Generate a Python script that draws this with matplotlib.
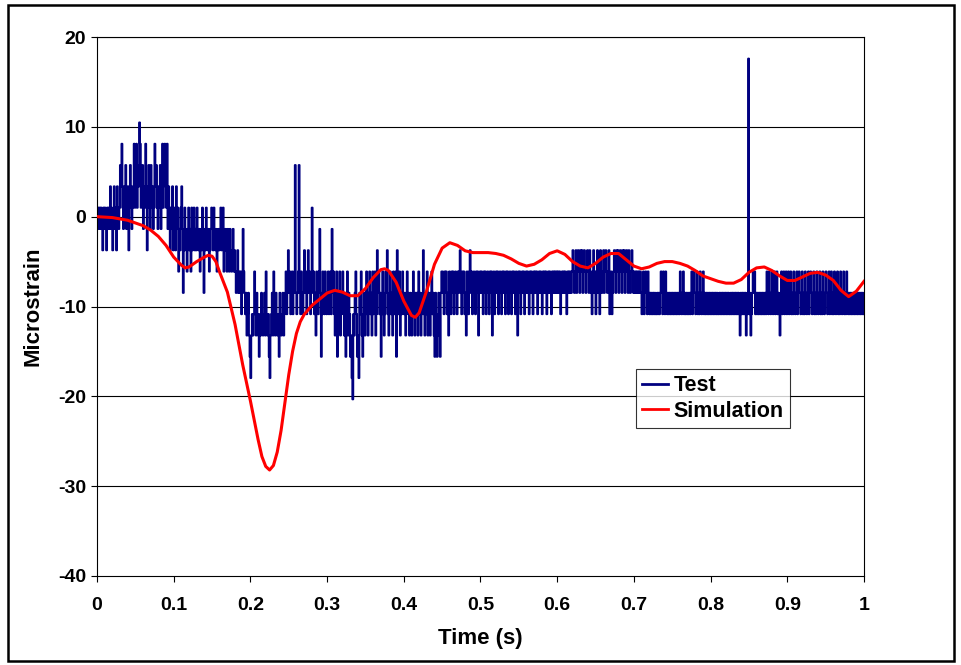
import numpy as np
import matplotlib
matplotlib.use("Agg")
import matplotlib.pyplot as plt
from matplotlib.patches import Rectangle

plt.rcParams['font.family'] = ['Liberation Sans', 'DejaVu Sans']
plt.rcParams['axes.unicode_minus'] = False
plt.rcParams['path.simplify'] = False

# Test signal: gauge readings in quantisation steps,
# one row per 0.05 s, 1 ms between samples
step = 2.37      # microstrain per step
zero = 1.0       # level of step 0
test_dt = 0.001
row_span = 0.05
test_rows = [
    [0, -1, 0, 0, -1, 0, -1, -2, 0, -1, 0, -1, -2, 0, -1, 0, -1, 1, 0, -1, -2, 0, 1, -1, 0,
     -2, 1, 0, -1, 0, 2, 1, 3, 0, -1, 1, 0, 2, -1, 0, 1, -2, 0, 2, 1, -1, 0, 1, 3, 0],
    [1, 3, 0, 2, 1, 4, 3, 0, 1, 2, -1, 0, 1, 3, 0, -2, 1, 2, 0, -1, 2, 0, 1, -1, 0,
     3, 1, 2, 0, -1, 1, 0, 2, -1, 1, 3, 0, 2, 3, 1, 0, 3, -1, 1, 0, -2, 0, -1, 1, -2],
    [0, -1, -2, 1, -1, 0, -3, -1, -2, 0, 1, -1, -4, -2, 0, -1, -2, -3, -1, 0, -2, -1, -3, 0, -2,
     -1, 0, -2, -1, -2, 0, -1, -2, -1, -3, -2, -1, 0, -2, -4, -1, -2, 0, -1, -2, -1, -3, -2, -1, 0],
    [-1, -2, 0, -1, -2, -1, -3, -2, -1, -2, -1, 0, -2, -1, 0, -3, -2, -1, -2, -3, -1, -2, -3, -1, -2,
     -3, -2, -1, -3, -2, -3, -4, -3, -2, -4, -3, -4, -3, -5, -4, -1, -3, -4, -5, -4, -6, -5, -4, -6, -7],
    [-8, -6, -5, -6, -5, -3, -5, -6, -4, -5, -6, -7, -5, -6, -4, -5, -6, -5, -4, -6, -3, -5, -6, -5, -7,
     -8, -6, -5, -4, -6, -3, -5, -6, -4, -5, -6, -5, -7, -4, -5, -6, -5, -4, -6, -5, -4, -3, -5, -4, -2],
    [-4, -3, -5, -4, -3, -5, -4, -3, 2, -4, -5, -4, -3, 2, -4, -5, -3, -4, -5, -4, -2, -4, -3, -5, -4,
     -2, -3, -4, -5, -3, 0, -4, -3, -5, -4, -6, -3, -4, -5, -3, -1, -4, -7, -5, -3, -4, -5, -3, -4, -5],
    [-4, -3, -5, -4, -3, -5, -1, -4, -3, -5, -6, -4, -3, -7, -5, -4, -3, -6, -5, -4, -3, -5, -6, -4, -7,
     -5, -3, -6, -4, -5, -7, -6, -8, -9, -5, -6, -4, -3, -5, -7, -6, -8, -4, -5, -3, -6, -7, -5, -4, -6],
    [-4, -3, -5, -6, -4, -3, -5, -4, -6, -3, -5, -4, -3, -6, -5, -2, -4, -3, -5, -4, -7, -5, -3, -4, -6,
     -5, -3, -4, -2, -5, -6, -4, -3, -5, -4, -6, -3, -5, -4, -3, -7, -2, -4, -5, -3, -6, -4, -5, -3, -4],
    [-5, -4, -6, -5, -3, -4, -5, -6, -4, -5, -6, -4, -3, -5, -6, -4, -5, -4, -6, -3, -5, -4, -6, -5, -4,
     -2, -5, -6, -4, -5, -3, -6, -4, -5, -6, -4, -3, -5, -4, -6, -7, -4, -5, -7, -6, -4, -5, -7, -4, -3],
    [-3, -4, -5, -3, -4, -3, -5, -4, -6, -3, -4, -5, -3, -4, -3, -5, -4, -3, -4, -5, -3, -4, -3, -2, -4,
     -5, -3, -4, -3, -5, -4, -6, -3, -4, -5, -3, -2, -4, -3, -5, -4, -3, -4, -5, -3, -4, -3, -6, -4, -3],
    [-4, -3, -4, -5, -3, -4, -3, -5, -4, -3, -4, -5, -3, -4, -3, -6, -4, -3, -5, -4, -3, -4, -3, -5, -4,
     -3, -4, -5, -3, -4, -3, -4, -5, -3, -4, -3, -5, -4, -3, -4, -5, -3, -4, -3, -4, -5, -3, -4, -6, -3],
    [-4, -3, -5, -4, -3, -4, -3, -5, -4, -3, -4, -3, -4, -5, -3, -4, -3, -4, -5, -3, -4, -3, -4, -3, -5,
     -4, -3, -4, -3, -4, -5, -3, -4, -3, -4, -3, -5, -4, -3, -4, -3, -4, -5, -3, -4, -3, -4, -3, -4, -3],
    [-4, -3, -4, -3, -5, -4, -3, -4, -3, -4, -3, -4, -5, -3, -4, -3, -4, -3, -4, -3, -2, -3, -4, -3, -2,
     -4, -3, -2, -3, -4, -2, -3, -2, -4, -3, -2, -3, -4, -3, -2, -3, -4, -2, -3, -4, -5, -3, -2, -4, -3],
    [-5, -3, -2, -4, -3, -5, -2, -3, -4, -3, -2, -4, -3, -2, -3, -4, -3, -2, -5, -4, -3, -5, -4, -3, -2,
     -3, -4, -2, -3, -2, -4, -3, -2, -3, -4, -2, -3, -2, -4, -3, -2, -3, -4, -2, -3, -4, -3, -2, -3, -4],
    [-3, -4, -3, -4, -3, -4, -3, -4, -3, -4, -5, -4, -3, -5, -4, -3, -4, -5, -3, -4, -5, -4, -5, -4, -5,
     -4, -5, -4, -5, -5, -4, -5, -4, -5, -4, -3, -4, -5, -3, -4, -5, -3, -4, -5, -4, -5, -4, -5, -4, -5],
    [-4, -5, -4, -5, -4, -5, -4, -5, -4, -5, -3, -4, -5, -4, -3, -5, -4, -5, -4, -5, -4, -5, -4, -5, -4,
     -3, -5, -4, -3, -4, -5, -4, -3, -5, -4, -5, -3, -4, -5, -4, -3, -5, -4, -5, -4, -5, -4, -5, -4, -5],
    [-4, -5, -4, -5, -4, -5, -4, -5, -4, -5, -5, -4, -5, -4, -5, -4, -5, -4, -5, -4, -5, -4, -5, -4, -5,
     -5, -4, -5, -4, -5, -4, -5, -4, -5, -4, -5, -4, -5, -6, -4, -5, -4, -5, -4, -5, -4, -6, -5, -4, 7],
    [-5, -4, -6, -5, -4, -3, -4, -3, -5, -4, -5, -4, -5, -4, -5, -4, -5, -4, -5, -4, -5, -4, -5, -3, -4,
     -5, -3, -4, -5, -4, -3, -5, -4, -3, -5, -4, -3, -5, -4, -5, -6, -4, -3, -5, -4, -3, -5, -4, -3, -5],
    [-4, -3, -5, -4, -3, -5, -4, -5, -3, -4, -5, -4, -3, -5, -4, -3, -4, -5, -4, -3, -5, -4, -5, -3, -4,
     -5, -4, -3, -5, -4, -3, -4, -5, -4, -3, -5, -4, -5, -3, -4, -5, -4, -3, -5, -4, -5, -3, -4, -5, -4],
    [-3, -4, -5, -4, -3, -5, -4, -3, -5, -4, -5, -3, -4, -5, -4, -3, -5, -4, -5, -3, -4, -5, -4, -3, -5,
     -4, -5, -3, -4, -5, -4, -5, -4, -5, -4, -5, -4, -5, -4, -5, -4, -5, -4, -5, -4, -5, -4, -5, -4, -5],
    [-5],
]

# Simulation curve
sim_t = [0, 0.02, 0.04, 0.05, 0.06, 0.07, 0.08, 0.09, 0.10, 0.11, 0.115, 0.12, 0.13, 0.14,
         0.145, 0.15, 0.155, 0.16, 0.17, 0.18, 0.19, 0.20, 0.21, 0.215, 0.22, 0.225, 0.23,
         0.235, 0.24, 0.245, 0.25, 0.255, 0.26, 0.265, 0.27, 0.28, 0.29, 0.30, 0.31, 0.32,
         0.33, 0.34, 0.35, 0.36, 0.37, 0.375, 0.38, 0.39, 0.40, 0.41, 0.415, 0.42, 0.43,
         0.44, 0.45, 0.46, 0.47, 0.48, 0.49, 0.50, 0.51, 0.52, 0.53, 0.54, 0.55, 0.56, 0.57,
         0.58, 0.59, 0.60, 0.61, 0.62, 0.63, 0.64, 0.65, 0.66, 0.67, 0.68, 0.69, 0.70, 0.71,
         0.72, 0.73, 0.74, 0.75, 0.76, 0.77, 0.78, 0.79, 0.80, 0.81, 0.82, 0.83, 0.84, 0.85,
         0.86, 0.87, 0.88, 0.89, 0.90, 0.91, 0.92, 0.93, 0.94, 0.95, 0.96, 0.97, 0.98, 0.99, 1.00]
sim_v = [0.0, -0.1, -0.4, -0.7, -1.0, -1.5, -2.2, -3.2, -4.5, -5.4, -5.7, -5.6, -5.0, -4.5,
         -4.3, -4.4, -5.0, -6.2, -8.4, -12.0, -16.5, -20.5, -24.8, -26.7, -27.8, -28.2, -27.7,
         -26.2, -23.8, -20.7, -17.6, -15.0, -13.0, -11.7, -10.9, -9.9, -9.2, -8.5, -8.2, -8.4,
         -8.8, -8.8, -8.0, -6.8, -5.9, -5.8, -6.0, -7.3, -9.4, -11.0, -11.2, -10.7, -8.2,
         -5.3, -3.5, -2.9, -3.2, -3.8, -4.0, -4.0, -4.0, -4.1, -4.3, -4.7, -5.2, -5.5, -5.3,
         -4.8, -4.1, -3.8, -4.2, -5.0, -5.5, -5.7, -5.2, -4.5, -4.1, -4.1, -4.8, -5.5, -5.8,
         -5.6, -5.2, -5.0, -5.0, -5.2, -5.5, -6.0, -6.6, -6.9, -7.2, -7.4, -7.4, -7.0, -6.2,
         -5.7, -5.6, -6.0, -6.6, -7.1, -7.1, -6.7, -6.3, -6.2, -6.5, -7.1, -8.2, -8.9, -8.3, -7.2]

x_ticks = [0, 0.1, 0.2, 0.3, 0.4, 0.5, 0.6, 0.7, 0.8, 0.9, 1]
x_labels = ['0', '0.1', '0.2', '0.3', '0.4', '0.5', '0.6', '0.7', '0.8', '0.9', '1']
y_ticks = [-40, -30, -20, -10, 0, 10, 20]

test_t = np.concatenate([i * row_span + np.arange(len(r)) * test_dt
                         for i, r in enumerate(test_rows)])
test_v = zero + step * np.concatenate([np.array(r, dtype=float) for r in test_rows])

fig = plt.figure(figsize=(9.62, 6.65), dpi=100)
ax = fig.add_axes([97 / 962, 1 - 576 / 665, 767 / 962, 539 / 665])

for y in y_ticks[1:]:
    ax.axhline(y, color='black', lw=0.8, zorder=1)

ax.plot(test_t, test_v, color='#000080', lw=1.5, drawstyle='steps-post', label='Test', zorder=2)
ax.plot(sim_t, sim_v, color='#ff0000', lw=2.2, label='Simulation', zorder=3)

ax.set_xlim(0, 1)
ax.set_ylim(-40, 20)
ax.set_xticks(x_ticks)
ax.set_xticklabels(x_labels)
ax.set_yticks(y_ticks)
for s in ['left', 'bottom', 'right', 'top']:
    ax.spines[s].set_color('black')
    ax.spines[s].set_linewidth(0.8)
ax.tick_params(direction='out', length=4, width=0.8, labelsize=14, pad=4)
ax.tick_params(axis='x', pad=11)
for lab in ax.get_xticklabels() + ax.get_yticklabels():
    lab.set_fontweight('bold')

ax.set_xlabel('Time (s)', fontsize=16, fontweight='bold', labelpad=10)
ax.set_ylabel('Microstrain', fontsize=16, fontweight='bold', labelpad=10)

leg = ax.legend(loc='lower left', bbox_to_anchor=(0.7027, 0.2746), fontsize=15.5,
                frameon=True, fancybox=False, handlelength=1.2, handletextpad=0.25,
                borderpad=0.3, labelspacing=0.2, borderaxespad=0)
leg.get_frame().set_edgecolor('black')
leg.get_frame().set_linewidth(0.8)
for t in leg.get_texts():
    t.set_fontweight('bold')
for h in leg.get_lines():
    h.set_linewidth(2)

fig.patches.append(Rectangle((8 / 962, 4 / 665), 946 / 962, 656 / 665, transform=fig.transFigure,
                             fill=False, edgecolor='black', lw=1.8))

fig.savefig('out.png', dpi=100)
